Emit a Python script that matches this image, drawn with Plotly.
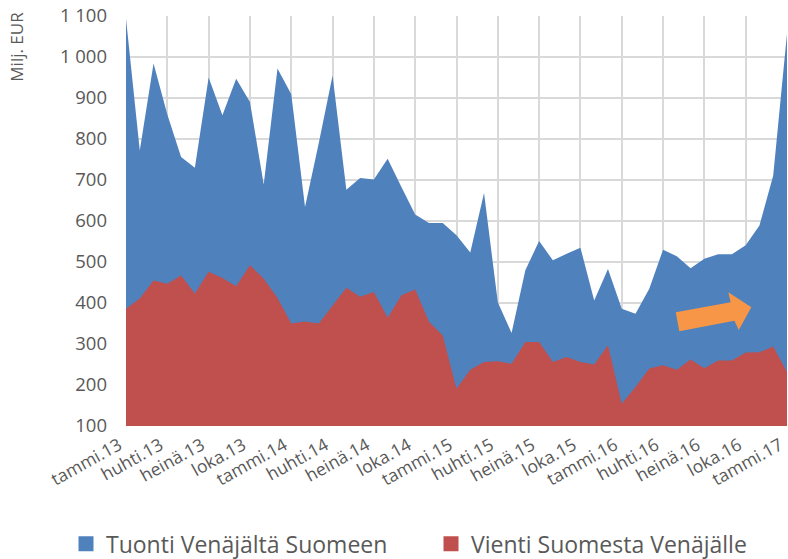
import plotly.graph_objects as go

# Kuukausittainen kauppa Venäjän kanssa, milj. EUR (tammi.13 - tammi.17)
kuukaudet = list(range(49))
tuonti = [1093, 772, 984, 860, 756, 730, 950, 858, 947, 890, 689, 972,
          909, 634, 790, 955, 676, 705, 701, 752, 683, 616, 595, 595,
          565, 523, 668, 402, 327, 480, 551, 504, 520, 535, 406, 483,
          386, 374, 435, 530, 514, 485, 508, 519, 519, 541, 589, 711,
          1057]
vienti = [386, 411, 455, 447, 467, 423, 476, 461, 441, 492, 459, 412,
          350, 355, 350, 394, 437, 415, 427, 364, 419, 433, 354, 321,
          191, 237, 256, 258, 252, 305, 305, 256, 268, 256, 250, 297,
          154, 195, 240, 248, 237, 262, 241, 260, 260, 279, 280, 294,
          232]
tick_pos = list(range(0, 49, 3))
tick_text = ['tammi.13', 'huhti.13', 'heinä.13', 'loka.13',
             'tammi.14', 'huhti.14', 'heinä.14', 'loka.14',
             'tammi.15', 'huhti.15', 'heinä.15', 'loka.15',
             'tammi.16', 'huhti.16', 'heinä.16', 'loka.16', 'tammi.17']
y_ticks = list(range(100, 1101, 100))

sarjat = [('Tuonti Venäjältä Suomeen', tuonti, '#4F81BD', 'legend'),
          ('Vienti Suomesta Venäjälle', vienti, '#C0504D', 'legend2')]

fig = go.Figure()
for nimi, arvot, vari, _ in sarjat:
    fig.add_trace(go.Scatter(
        x=kuukaudet, y=arvot, name=nimi, showlegend=False,
        mode='lines', fill='tozeroy', line=dict(width=0, color=vari),
        fillcolor=vari, hoverinfo='x+y'
    ))
# neliönmuotoiset selitteet, kumpikin omassa selitteessään
for nimi, arvot, vari, selite in sarjat:
    fig.add_trace(go.Scatter(
        x=[None], y=[None], name=nimi, mode='markers', legend=selite,
        marker=dict(symbol='square', size=15, color=vari)
    ))

# oranssi nuoli
fig.add_shape(
    type='path', xref='x', yref='y',
    path='M 39.92 377.3 L 43.91 401.7 L 43.74 426.1 L 45.41 389.5 '
         'L 44.50 334.1 L 44.18 356.8 L 40.18 331.0 Z',
    fillcolor='#F79646', line=dict(width=0), layer='above'
)

fig.add_annotation(
    text='Milj. EUR', xref='paper', yref='paper', x=-0.165, y=0.925,
    textangle=-90, showarrow=False, xanchor='center', yanchor='middle',
    font=dict(size=17, color='#595959')
)

selite_tyyli = dict(orientation='h', xanchor='left', y=-0.235, yanchor='top',
                    font=dict(size=23, color='#595959'), itemwidth=30,
                    bgcolor='rgba(0,0,0,0)')

fig.update_layout(
    width=788, height=559,
    margin=dict(l=126, r=1, t=16, b=133, autoexpand=False),
    paper_bgcolor='white', plot_bgcolor='white',
    font=dict(family='Open Sans, Liberation Sans, sans-serif', color='#595959'),
    separators=', ',
    showlegend=True,
    legend=dict(x=(66 - 126) / 661, **selite_tyyli),
    legend2=dict(x=(431 - 126) / 661, **selite_tyyli),
    xaxis=dict(range=[-0.001, 48.001], tickvals=tick_pos, ticktext=tick_text,
               tickangle=-29, showgrid=True, gridcolor='#D9D9D9',
               gridwidth=1.5, zeroline=False, ticks='', automargin=False,
               tickfont=dict(size=17.5), showline=False,
               ticklabelstandoff=5, ticklabelshift=-7,
               ticklabeloverflow='allow'),
    yaxis=dict(range=[100, 1100], tickvals=y_ticks, tickformat=',d',
               showgrid=True, gridcolor='#D9D9D9', gridwidth=1.5,
               zeroline=False, ticks='', tickfont=dict(size=18.5),
               showline=False, ticklabelstandoff=18, automargin=False),
)

# sivun oletusmarginaali pois, jotta kuva täyttää ikkunan tarkasti
fig.write_html("out.html", config={'displayModeBar': False}, post_script=(
    "document.body.style.margin='0';"
    "document.body.style.overflow='hidden';"
))
